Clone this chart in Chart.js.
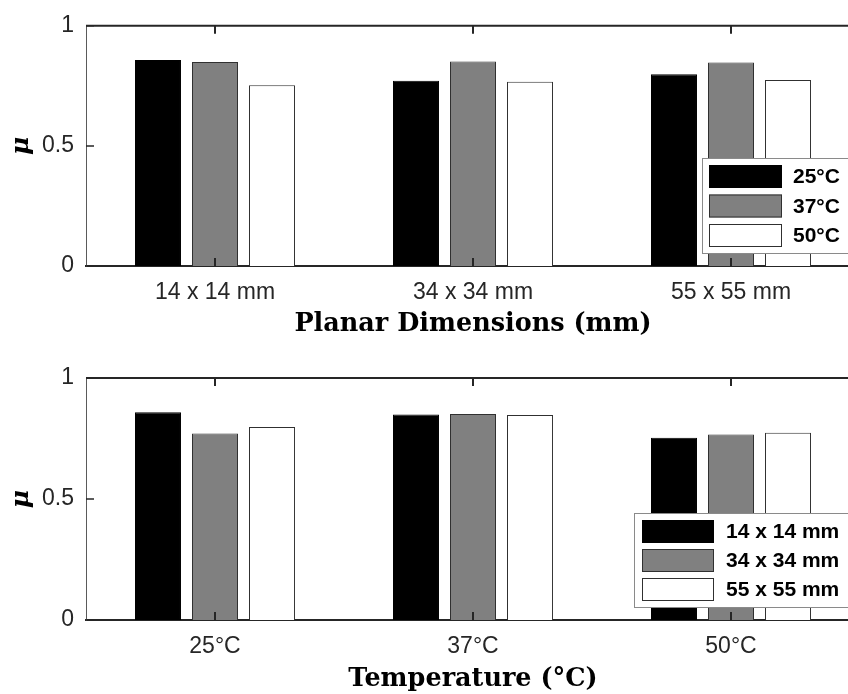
<!DOCTYPE html>
<html>
<head>
<meta charset="utf-8">
<script src="https://cdn.jsdelivr.net/npm/chart.js@4.4.0/dist/chart.umd.min.js"></script>
<style>
  html, body { margin: 0; padding: 0; background: #fff; overflow: hidden; width: 848px; height: 694px; }
  .panel { position: absolute; left: 0; width: 870px; height: 347px; }
  #topPanel { top: 0; }
  #bottomPanel { top: 347px; }
</style>
</head>
<body>
<div class="panel" id="topPanel"><canvas id="byDimension" width="870" height="347"></canvas></div>
<div class="panel" id="bottomPanel"><canvas id="byTemperature" width="870" height="347"></canvas></div>
<script>
// Sample planar sizes and test temperatures
const dimensions = ['14 x 14 mm', '34 x 34 mm', '55 x 55 mm'];
const temperatures = ['25°C', '37°C', '50°C'];

// Friction coefficient μ at each temperature, one value per sample size
const mu25 = [0.858, 0.771, 0.798];
const mu37 = [0.849, 0.851, 0.847];
const mu50 = [0.753, 0.767, 0.774];

const yTicks = [0, 0.5, 1];

const FILLS = ['#000000', '#808080', '#ffffff'];
const EDGES = ['#000000', '#303030', '#303030'];
const AXIS = '#262626';

// Inward tick marks and the top frame line, drawn over the bars
const frameTicks = {
  id: 'frameTicks',
  afterDatasetsDraw(chart) {
    const { ctx, chartArea: a, scales: { x, y } } = chart;
    ctx.save();
    ctx.strokeStyle = AXIS;
    ctx.lineWidth = 2;
    ctx.beginPath();
    ctx.moveTo(a.left, a.top);
    ctx.lineTo(a.right, a.top);
    ctx.stroke();
    ctx.beginPath();
    x.ticks.forEach((t, i) => {
      const px = Math.round(x.getPixelForTick(i));
      ctx.moveTo(px, a.bottom);
      ctx.lineTo(px, a.bottom - 8);
      ctx.moveTo(px, a.top);
      ctx.lineTo(px, a.top + 8);
    });
    ctx.stroke();
    ctx.lineWidth = 1.5;
    ctx.beginPath();
    y.ticks.forEach(t => {
      const py = y.getPixelForValue(t.value);
      ctx.moveTo(a.left, py);
      ctx.lineTo(a.left + 8, py);
    });
    ctx.stroke();
    ctx.restore();
  }
};

// Boxed legend sitting inside the plot area
const boxLegend = {
  id: 'boxLegend',
  afterDraw(chart, args, o) {
    const ctx = chart.ctx;
    ctx.save();
    ctx.fillStyle = '#ffffff';
    ctx.fillRect(o.x, o.y, o.w, o.h);
    ctx.strokeStyle = '#8a8a8a';
    ctx.lineWidth = 1;
    ctx.strokeRect(o.x + 0.5, o.y + 0.5, o.w, o.h);
    ctx.font = 'bold 21px "Liberation Sans", Arial, sans-serif';
    ctx.textBaseline = 'middle';
    ctx.textAlign = 'left';
    chart.data.datasets.forEach((ds, i) => {
      const sy = o.y + o.pad + i * o.step;
      ctx.fillStyle = ds.backgroundColor;
      ctx.fillRect(o.x + o.sx, sy, o.sw, o.sh);
      ctx.strokeStyle = ds.borderColor;
      ctx.lineWidth = 1;
      ctx.strokeRect(o.x + o.sx + 0.5, sy + 0.5, o.sw - 1, o.sh - 1);
      ctx.fillStyle = '#000000';
      ctx.fillText(ds.label, o.x + o.tx, sy + o.sh / 2 + 1);
    });
    ctx.restore();
  }
};

function buildChart(id, categories, seriesNames, seriesValues, xTitle, geo) {
  return new Chart(document.getElementById(id), {
    type: 'bar',
    data: {
      labels: categories,
      datasets: seriesNames.map((name, i) => ({
        label: name,
        data: seriesValues[i],
        backgroundColor: FILLS[i],
        borderColor: EDGES[i],
        borderWidth: 1,
        categoryPercentage: 0.663,
        barPercentage: 0.807
      }))
    },
    options: {
      responsive: false,
      animation: false,
      devicePixelRatio: 1,
      layout: { padding: { top: geo.top, right: 10, left: 0, bottom: 0 } },
      plugins: {
        legend: { display: false },
        tooltip: { enabled: false },
        boxLegend: geo.legend
      },
      scales: {
        x: {
          z: 1,
          grid: { display: false, drawTicks: false },
          border: { display: true, color: AXIS, width: 2 },
          ticks: {
            color: AXIS,
            padding: geo.tickPad,
            font: { family: '"Liberation Sans", Arial, sans-serif', size: 23 }
          },
          title: {
            display: true,
            text: xTitle,
            color: '#000000',
            font: { family: '"DejaVu Serif", serif', size: 25.5, weight: 'bold' },
            padding: { top: 0, bottom: geo.titlePad }
          },
          afterFit: s => { s.height = geo.xHeight; }
        },
        y: {
          z: 1,
          min: 0,
          max: 1,
          grid: { display: false, drawTicks: false },
          border: { display: true, color: '#5a5a5a', width: 1 },
          afterBuildTicks: s => { s.ticks = yTicks.map(v => ({ value: v })); },
          ticks: {
            color: AXIS,
            padding: 12,
            font: { family: '"Liberation Sans", Arial, sans-serif', size: 23 },
            callback: v => String(v)
          },
          title: {
            display: true,
            text: 'μ',
            color: '#000000',
            font: { family: '"DejaVu Serif", serif', size: 25, weight: 'bold', style: 'italic' },
            padding: { top: 6, bottom: 0 }
          },
          afterFit: s => { s.width = 86; }
        }
      }
    },
    plugins: [frameTicks, boxLegend]
  });
}

// μ grouped by sample size, one bar per temperature
buildChart('byDimension', dimensions, temperatures, [mu25, mu37, mu50],
  'Planar Dimensions (mm)',
  { top: 22, xHeight: 81, tickPad: 13, titlePad: 7,
    legend: { x: 702, y: 158, w: 200, h: 95, pad: 7, step: 29.5, sx: 7, sw: 73, sh: 23, tx: 91 } });

// μ grouped by temperature, one bar per sample size
const bySize = dimensions.map((d, j) => [mu25[j], mu37[j], mu50[j]]);
buildChart('byTemperature', temperatures, dimensions, bySize,
  'Temperature (°C)',
  { top: 31, xHeight: 74, tickPad: 13, titlePad: -1,
    legend: { x: 634, y: 166, w: 240, h: 94, pad: 7, step: 29, sx: 8, sw: 72, sh: 23, tx: 92 } });
</script>
</body>
</html>
